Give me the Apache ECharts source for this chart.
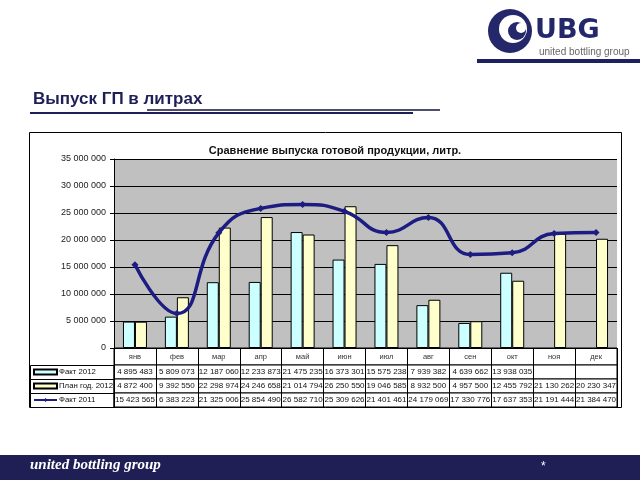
<!DOCTYPE html>
<html><head><meta charset="utf-8">
<script src="https://cdn.jsdelivr.net/npm/echarts@6/dist/echarts.min.js"></script>
<style>html,body{margin:0;padding:0;background:#fff}#c{width:640px;height:480px}</style>
</head><body><div id="c"></div>
<script>
const months = ['янв','фев','мар','апр','май','июн','июл','авг','сен','окт','ноя','дек'];
const fact2012 = [4895483, 5809073, 12187060, 12233873, 21475235, 16373301, 15575238, 7939382, 4639662, 13938035, null, null];
const plan2012 = [4872400, 9392550, 22298974, 24246658, 21014794, 26250550, 19046585, 8932500, 4957500, 12455792, 21130262, 20230347];
const fact2011 = [15423565, 6383223, 21325006, 25854490, 26582710, 25309626, 21401461, 24179069, 17330776, 17637353, 21191444, 21384470];
const seriesNames = ['Факт 2012', 'План год. 2012', 'Факт 2011'];
const yTicks = {min: 0, max: 35000000, interval: 5000000};

function fmt(v){ if(v==null) return ''; return String(v).replace(/\B(?=(\d{3})+(?!\d))/g, ' '); }

const FONT = '"Liberation Sans", Arial, sans-serif';
const NAVY = '#1f1f57';
const LINE = '#1c1c82';

const PL = 114, PW = 503;
const rowTops = [365, 379, 393], rowH = 14;
const rowData = [fact2012, plan2012, fact2011];

const grids = [
  {left: PL, top: 159, width: PW, height: 189, show: true, backgroundColor: '#c0c0c0', borderWidth: 0},
  {left: PL, top: 348, width: PW, height: 17, show: true, backgroundColor: '#fff', borderColor: '#000', borderWidth: 1}
];
rowTops.forEach(t => grids.push({left: PL, top: t, width: PW, height: rowH, show: true, backgroundColor: '#fff', borderColor: '#000', borderWidth: 1}));

const xAxes = [
  {gridIndex: 0, type: 'category', data: months, axisLabel: {show: false}, axisTick: {show: false},
   axisLine: {lineStyle: {color: '#000', width: 1}}},
  {gridIndex: 1, type: 'category', data: months, axisLine: {show: false}, axisTick: {show: false},
   splitLine: {show: true, interval: 0, lineStyle: {color: '#000', width: 1}},
   axisLabel: {inside: true, interval: 0, hideOverlap: false, margin: 4, fontSize: 7.5, color: '#333', fontFamily: FONT}}
];
rowData.forEach((arr, i) => xAxes.push({
  gridIndex: i + 2, type: 'category', data: months, axisLine: {show: false}, axisTick: {show: false},
  splitLine: {show: true, interval: 0, lineStyle: {color: '#000', width: 1}},
  axisLabel: {inside: true, interval: 0, hideOverlap: false, margin: 3, fontSize: 8, color: '#111', fontFamily: FONT,
    formatter: (v, idx) => fmt(arr[idx])}
}));

const yAxes = [
  {gridIndex: 0, type: 'value', min: yTicks.min, max: yTicks.max, interval: yTicks.interval,
   axisLine: {show: true, lineStyle: {color: '#000'}}, axisTick: {show: true, length: 4, lineStyle: {color: '#000'}},
   splitLine: {lineStyle: {color: '#000', width: 1}},
   axisLabel: {fontSize: 9, color: '#222', margin: 8, fontFamily: FONT, formatter: v => fmt(v)}}
];
for (let i = 1; i < 5; i++) yAxes.push({gridIndex: i, type: 'value', show: false});

const legends = seriesNames.map((n, i) => ({
  data: [n], left: 33, top: rowTops[i] + 3, itemWidth: 23, itemHeight: 5, itemGap: 3,
  textStyle: {fontSize: 7.8, color: '#111', fontFamily: FONT, padding: [0,0,0,-3]},
  padding: 0, selectedMode: false, icon: i < 2 ? 'rect' : undefined
}));

const chart = echarts.init(document.getElementById('c'), null, {renderer: 'canvas'});
chart.setOption({
  backgroundColor: '#fff',
  animation: false,
  title: [
    {text: 'Выпуск ГП в литрах', left: 28, top: 86, textStyle: {fontSize: 17, fontWeight: 'bold', color: NAVY, fontFamily: FONT}},
    {text: 'Сравнение выпуска готовой продукции, литр.', left: 330, textAlign: 'center', top: 140,
     textStyle: {fontSize: 11, fontWeight: 'bold', color: '#111', fontFamily: FONT}}
  ],
  legend: legends,
  grid: grids,
  xAxis: xAxes,
  yAxis: yAxes,
  series: [
    {name: seriesNames[0], type: 'bar', xAxisIndex: 0, yAxisIndex: 0, data: fact2012, barWidth: 12, barGap: '0%',
     itemStyle: {color: '#ccffff', borderColor: '#000', borderWidth: 1}},
    {name: seriesNames[1], type: 'bar', xAxisIndex: 0, yAxisIndex: 0, data: plan2012, barWidth: 12, barGap: '0%',
     itemStyle: {color: '#ffffcc', borderColor: '#000', borderWidth: 1}},
    {name: seriesNames[2], type: 'line', xAxisIndex: 0, yAxisIndex: 0, data: fact2011, smooth: 0.5, z: 5,
     symbol: 'diamond', symbolSize: 7, lineStyle: {color: LINE, width: 3.5}, itemStyle: {color: LINE}}
  ],
  graphic: [
    {type: 'rect', shape: {x: 29.5, y: 132.5, width: 592, height: 275}, style: {fill: 'none', stroke: '#000', lineWidth: 1}, z: 10},
    {type: 'rect', shape: {x: 30.5, y: 365.5, width: 83.5, height: 14}, style: {fill: 'none', stroke: '#000', lineWidth: 1}, z: 10},
    {type: 'rect', shape: {x: 30.5, y: 379.5, width: 83.5, height: 14}, style: {fill: 'none', stroke: '#000', lineWidth: 1}, z: 10},
    {type: 'rect', shape: {x: 30.5, y: 393.5, width: 83.5, height: 14}, style: {fill: 'none', stroke: '#000', lineWidth: 1}, z: 10},
    {type: 'line', shape: {x1: 30, y1: 113, x2: 413, y2: 113}, style: {stroke: NAVY, lineWidth: 2}},
    {type: 'line', shape: {x1: 147, y1: 110, x2: 440, y2: 110}, style: {stroke: '#4e4e6e', lineWidth: 2}},
    {type: 'circle', shape: {cx: 510, cy: 31, r: 22}, style: {fill: '#24286a'}},
    {type: 'circle', shape: {cx: 513, cy: 29, r: 14}, style: {fill: '#fff'}},
    {type: 'circle', shape: {cx: 517, cy: 31, r: 9}, style: {fill: '#24286a'}},
    {type: 'circle', shape: {cx: 521, cy: 28, r: 5}, style: {fill: '#fff'}},
    {type: 'text', left: 535, top: 17, style: {text: 'UBG', fontSize: 27, fontWeight: 'bold', fill: '#24286a', fontFamily: '"DejaVu Sans", sans-serif'}},
    {type: 'text', left: 539, top: 47, style: {text: 'united bottling group', fontSize: 10, fill: '#666', fontFamily: FONT}},
    {type: 'rect', shape: {x: 477, y: 59, width: 163, height: 4}, style: {fill: '#1e2160'}},
    {type: 'rect', shape: {x: 0, y: 455, width: 640, height: 25}, style: {fill: '#1f1f55'}},
    {type: 'text', left: 30, top: 458, style: {text: 'united bottling group', fontSize: 15, fontStyle: 'italic', fontWeight: 'bold', fill: '#fff', fontFamily: '"Liberation Serif", serif'}},
    {type: 'text', left: 541, top: 461, style: {text: '*', fontSize: 12, fill: '#fff', fontFamily: FONT}}
  ]
});
</script></body></html>
